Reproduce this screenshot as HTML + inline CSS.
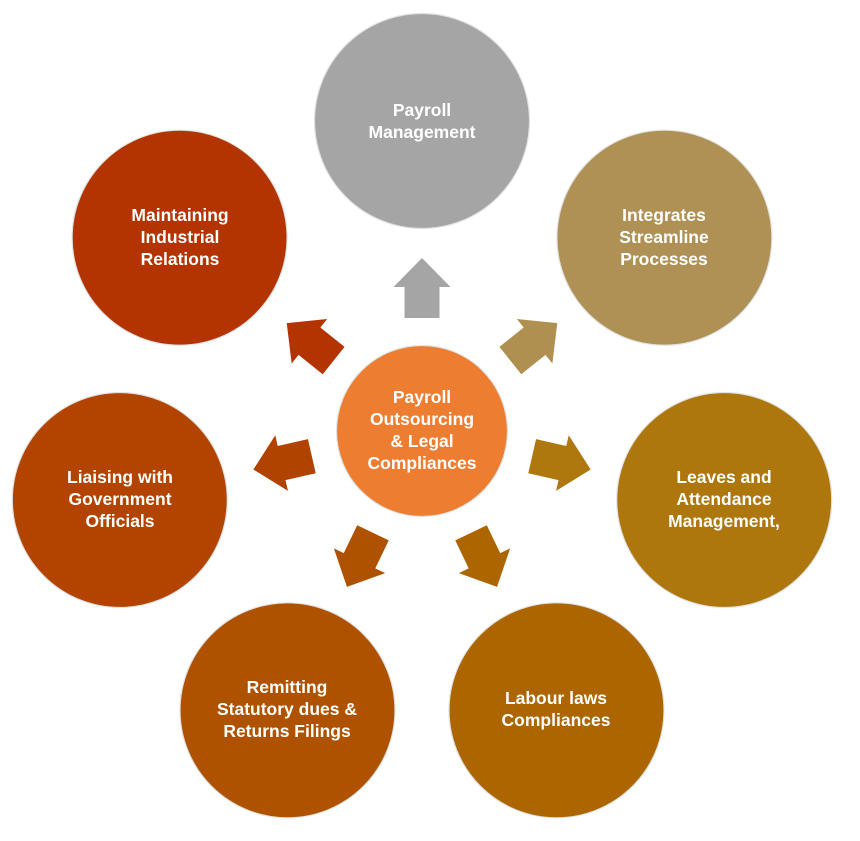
<!DOCTYPE html>
<html><head><meta charset="utf-8"><style>
html,body{margin:0;padding:0;background:#fff;}
svg{display:block;}
text{font-family:"Liberation Sans",Arial,sans-serif;font-weight:bold;font-size:17.5px;fill:#fff;text-anchor:middle;}
</style></head><body>
<svg width="860" height="841" viewBox="0 0 860 841" xmlns="http://www.w3.org/2000/svg">
<defs>
<polygon id="arr" points="0,-173 28.5,-144 17.5,-144 17.5,-113 -17.5,-113 -17.5,-144 -28.5,-144"/>
</defs>
<!-- arrows -->
<g transform="translate(422,431)">
<use href="#arr" fill="#A5A5A5" transform="rotate(0)"/>
<use href="#arr" fill="#B09050" transform="rotate(51.43)"/>
<use href="#arr" fill="#AE780F" transform="rotate(102.86)"/>
<use href="#arr" fill="#AD6500" transform="rotate(154.29)"/>
<use href="#arr" fill="#AF5200" transform="rotate(205.71)"/>
<use href="#arr" fill="#B14300" transform="rotate(257.14)"/>
<use href="#arr" fill="#B33400" transform="rotate(308.57)"/>
</g>
<!-- circles -->
<g stroke="#e2e2e2" stroke-width="1.2">
<circle cx="422" cy="121" r="107.5" fill="#A5A5A5"/>
<circle cx="664.4" cy="237.7" r="107.5" fill="#B09155"/>
<circle cx="724.2" cy="500" r="107.5" fill="#AE770E"/>
<circle cx="556.5" cy="710.3" r="107.5" fill="#AD6500"/>
<circle cx="287.5" cy="710.3" r="107.5" fill="#AF5200"/>
<circle cx="119.8" cy="500" r="107.5" fill="#B24400"/>
<circle cx="179.6" cy="237.7" r="107.5" fill="#B33400"/>
<circle cx="422" cy="431" r="85.5" fill="#ED7D31"/>
</g>
<!-- labels -->
<text x="422" y="116">Payroll</text>
<text x="422" y="138">Management</text>

<text x="664" y="221">Integrates</text>
<text x="664" y="243">Streamline</text>
<text x="664" y="265">Processes</text>

<text x="724" y="483">Leaves and</text>
<text x="724" y="505">Attendance</text>
<text x="724" y="527">Management,</text>

<text x="556" y="704">Labour laws</text>
<text x="556" y="726">Compliances</text>

<text x="287" y="693">Remitting</text>
<text x="287" y="715">Statutory dues &amp;</text>
<text x="287" y="737">Returns Filings</text>

<text x="120" y="483">Liaising with</text>
<text x="120" y="505">Government</text>
<text x="120" y="527">Officials</text>

<text x="180" y="221">Maintaining</text>
<text x="180" y="243">Industrial</text>
<text x="180" y="265">Relations</text>

<text x="422" y="403">Payroll</text>
<text x="422" y="425">Outsourcing</text>
<text x="422" y="447">&amp; Legal</text>
<text x="422" y="469">Compliances</text>
</svg>
</body></html>
